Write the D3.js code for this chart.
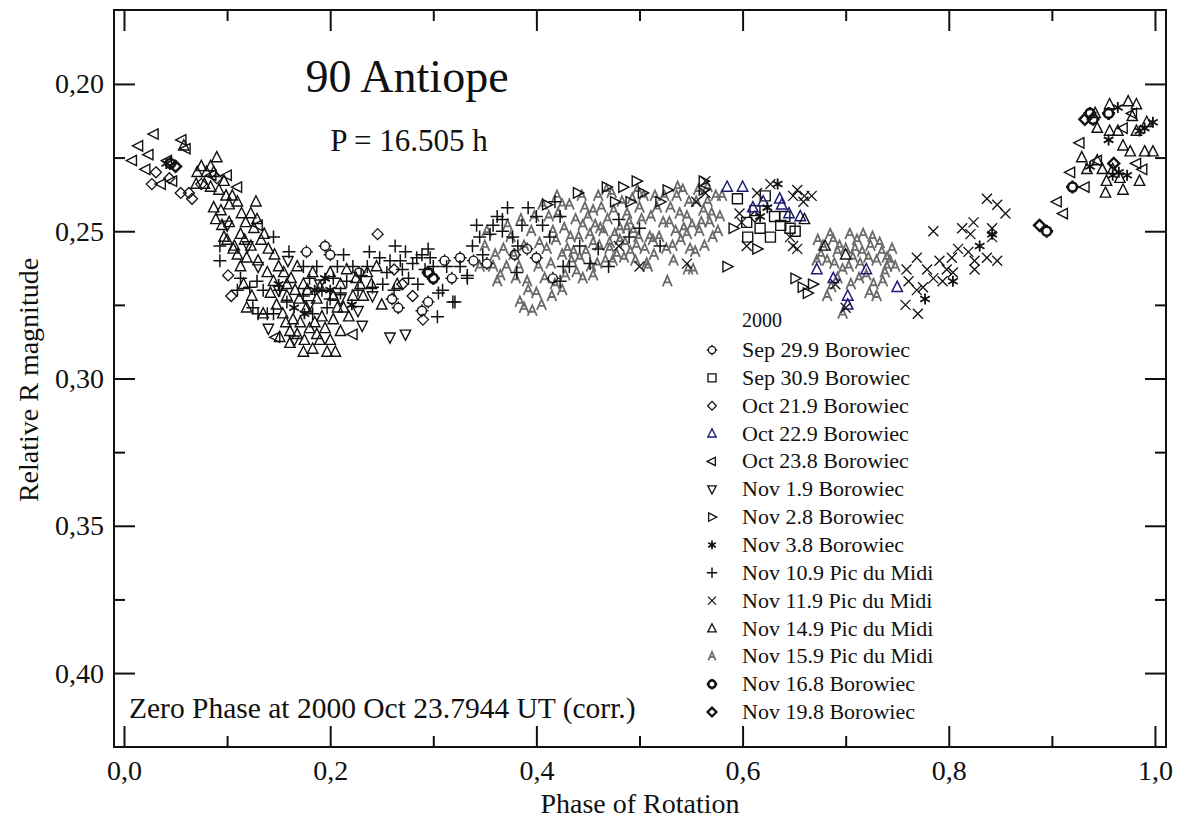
<!DOCTYPE html>
<html>
<head>
<meta charset="utf-8">
<script src="https://cdn.jsdelivr.net/npm/d3@7"></script>
<style>
body { margin: 0; background: #fff; }
text { font-family: "Liberation Serif", "DejaVu Serif", serif; fill: #111; }
</style>
</head>
<body>
<svg id="chart" width="1178" height="822"></svg>
<script>
// phase of rotation vs relative R magnitude
var sep299 = [[0.177,0.257],[0.195,0.255],[0.200,0.258],[0.311,0.260],[0.326,0.259],[0.339,0.260],[0.260,0.273],[0.266,0.276],[0.289,0.277],[0.295,0.274],[0.318,0.266],[0.379,0.258],[0.391,0.256],[0.400,0.259],[0.416,0.266],[0.228,0.264],[0.352,0.261]];
var sep309 = [[0.595,0.239],[0.604,0.247],[0.631,0.245],[0.641,0.245],[0.646,0.249],[0.627,0.252],[0.617,0.249],[0.605,0.252],[0.637,0.248],[0.651,0.250],[0.612,0.243],[0.622,0.238]];
var oct219 = [[0.031,0.230],[0.027,0.234],[0.055,0.237],[0.066,0.239],[0.063,0.237],[0.075,0.234],[0.090,0.232],[0.101,0.265],[0.104,0.272],[0.246,0.251],[0.300,0.266],[0.290,0.280],[0.280,0.272],[0.270,0.268],[0.262,0.263],[0.044,0.232],[0.612,0.245]];
var oct229 = [[0.585,0.235],[0.600,0.235],[0.620,0.240],[0.636,0.239],[0.656,0.245],[0.672,0.263],[0.688,0.266],[0.702,0.272],[0.702,0.275],[0.720,0.263],[0.750,0.269],[0.638,0.241],[0.645,0.244],[0.610,0.242]];
var oct238 = [[0.029,0.217],[0.056,0.219],[0.014,0.221],[0.024,0.224],[0.008,0.226],[0.042,0.226],[0.021,0.229],[0.047,0.233],[0.036,0.234],[0.100,0.231],[0.110,0.235],[0.085,0.231],[0.147,0.286],[0.222,0.285],[0.927,0.220],[0.918,0.230],[0.932,0.235],[0.905,0.240],[0.911,0.244],[0.944,0.226],[0.988,0.229],[0.982,0.227],[0.978,0.210],[0.969,0.215],[0.060,0.222],[0.130,0.248]];
var nov019 = [[0.159,0.260],[0.231,0.282],[0.258,0.286],[0.273,0.285],[0.241,0.272],[0.227,0.277],[0.210,0.273],[0.100,0.248],[0.130,0.262],[0.150,0.270],[0.180,0.275],[0.140,0.283],[0.165,0.287],[0.190,0.268],[0.120,0.255]];
var nov028 = [[0.468,0.235],[0.484,0.235],[0.497,0.233],[0.476,0.240],[0.491,0.240],[0.527,0.236],[0.562,0.236],[0.562,0.233],[0.585,0.262],[0.591,0.249],[0.614,0.256],[0.503,0.237],[0.651,0.266],[0.658,0.269],[0.663,0.271],[0.668,0.268],[0.440,0.237],[0.410,0.241],[0.520,0.240]];
var nov038 = [[0.964,0.208],[0.998,0.213],[0.985,0.216],[0.955,0.219],[0.973,0.231],[0.959,0.231],[0.937,0.228],[0.830,0.255],[0.842,0.251],[0.634,0.234],[0.624,0.242],[0.777,0.273],[0.804,0.267],[0.041,0.227],[0.200,0.270],[0.221,0.275],[0.990,0.215],[0.965,0.230],[0.617,0.245],[0.165,0.276],[0.185,0.270],[0.195,0.266],[0.175,0.278],[0.150,0.268]];
var nov109 = [[0.145,0.252],[0.263,0.255],[0.248,0.259],[0.258,0.260],[0.273,0.257],[0.280,0.261],[0.289,0.258],[0.292,0.263],[0.309,0.270],[0.319,0.274],[0.304,0.279],[0.338,0.255],[0.333,0.266],[0.251,0.268],[0.122,0.269],[0.130,0.278],[0.342,0.248],[0.362,0.245],[0.367,0.246],[0.345,0.252],[0.355,0.251],[0.367,0.250],[0.392,0.242],[0.400,0.245],[0.406,0.248],[0.377,0.252],[0.382,0.255],[0.423,0.245],[0.426,0.262],[0.423,0.267],[0.442,0.255],[0.452,0.261],[0.268,0.260],[0.284,0.259],[0.297,0.259],[0.300,0.262],[0.305,0.271],[0.321,0.274],[0.333,0.265],[0.381,0.264],[0.093,0.260],[0.093,0.255],[0.113,0.266],[0.125,0.276],[0.139,0.278],[0.174,0.262],[0.187,0.262],[0.203,0.266],[0.216,0.267],[0.222,0.262],[0.236,0.262],[0.241,0.269],[0.129,0.267],[0.151,0.270],[0.158,0.274],[0.174,0.272],[0.183,0.278],[0.197,0.276],[0.210,0.271],[0.145,0.278],[0.490,0.252],[0.500,0.249],[0.470,0.262],[0.160,0.257],[0.230,0.265],[0.180,0.266],[0.192,0.270],[0.200,0.273],[0.207,0.262],[0.213,0.258],[0.227,0.270],[0.238,0.257],[0.255,0.264],[0.262,0.270],[0.270,0.263],[0.276,0.266],[0.285,0.268],[0.295,0.256],[0.313,0.262],[0.326,0.262],[0.348,0.258],[0.358,0.248],[0.372,0.242],[0.386,0.248],[0.413,0.252],[0.418,0.240],[0.432,0.262],[0.460,0.256],[0.480,0.246],[0.520,0.255],[0.110,0.270],[0.135,0.270]];
var nov119 = [[0.564,0.233],[0.564,0.237],[0.614,0.237],[0.627,0.234],[0.649,0.238],[0.660,0.238],[0.667,0.238],[0.597,0.244],[0.599,0.247],[0.646,0.252],[0.649,0.255],[0.604,0.255],[0.546,0.261],[0.659,0.240],[0.653,0.236],[0.653,0.256],[0.785,0.250],[0.769,0.259],[0.759,0.263],[0.779,0.263],[0.791,0.260],[0.798,0.263],[0.761,0.267],[0.769,0.270],[0.775,0.269],[0.785,0.266],[0.794,0.267],[0.804,0.264],[0.803,0.259],[0.758,0.275],[0.770,0.278],[0.837,0.239],[0.847,0.241],[0.855,0.244],[0.813,0.249],[0.824,0.247],[0.821,0.251],[0.842,0.249],[0.809,0.256],[0.819,0.257],[0.825,0.260],[0.837,0.259],[0.847,0.260],[0.825,0.263],[0.842,0.252],[0.700,0.276],[0.690,0.268],[0.555,0.240],[0.500,0.262],[0.480,0.255]];
var nov149 = [[0.058,0.221],[0.084,0.228],[0.080,0.230],[0.087,0.230],[0.071,0.230],[0.070,0.234],[0.078,0.234],[0.084,0.235],[0.097,0.233],[0.099,0.238],[0.087,0.242],[0.094,0.243],[0.102,0.241],[0.089,0.246],[0.102,0.247],[0.114,0.244],[0.123,0.244],[0.126,0.249],[0.136,0.251],[0.133,0.253],[0.113,0.251],[0.097,0.252],[0.107,0.255],[0.123,0.255],[0.119,0.276],[0.135,0.278],[0.151,0.286],[0.161,0.284],[0.161,0.288],[0.174,0.291],[0.183,0.290],[0.197,0.291],[0.190,0.287],[0.200,0.287],[0.210,0.284],[0.203,0.280],[0.171,0.281],[0.177,0.276],[0.158,0.272],[0.187,0.273],[0.203,0.272],[0.210,0.268],[0.216,0.263],[0.139,0.264],[0.119,0.259],[0.106,0.256],[0.113,0.262],[0.100,0.253],[0.168,0.262],[0.145,0.267],[0.158,0.268],[0.174,0.268],[0.183,0.264],[0.190,0.269],[0.229,0.268],[0.222,0.272],[0.236,0.264],[0.200,0.264],[0.213,0.276],[0.154,0.278],[0.164,0.280],[0.124,0.272],[0.250,0.275],[0.245,0.262],[0.265,0.268],[0.092,0.236],[0.105,0.238],[0.110,0.240],[0.118,0.247],[0.129,0.246],[0.140,0.256],[0.146,0.258],[0.150,0.262],[0.155,0.264],[0.162,0.266],[0.166,0.270],[0.170,0.273],[0.178,0.270],[0.180,0.283],[0.185,0.281],[0.192,0.279],[0.195,0.283],[0.207,0.276],[0.218,0.279],[0.225,0.266],[0.232,0.272],[0.240,0.268],[0.148,0.275],[0.142,0.271],[0.130,0.260],[0.116,0.268],[0.168,0.285],[0.157,0.281],[0.187,0.285],[0.205,0.291],[0.175,0.287],[0.110,0.258],[0.117,0.253],[0.095,0.248],[0.128,0.240],[0.075,0.228],[0.090,0.225],[0.956,0.207],[0.974,0.206],[0.982,0.207],[0.942,0.210],[0.978,0.211],[0.944,0.215],[0.956,0.216],[0.964,0.216],[0.992,0.213],[0.982,0.216],[0.990,0.223],[0.998,0.223],[0.969,0.221],[0.976,0.223],[0.929,0.225],[0.934,0.229],[0.949,0.229],[0.953,0.233],[0.966,0.232],[0.952,0.237],[0.969,0.236],[0.985,0.233],[0.944,0.226],[0.959,0.229],[0.680,0.255],[0.700,0.258],[0.660,0.246]];
var nov159 = [[0.406,0.241],[0.420,0.238],[0.425,0.241],[0.447,0.242],[0.396,0.277],[0.384,0.274],[0.400,0.271],[0.362,0.267],[0.371,0.262],[0.358,0.262],[0.391,0.267],[0.439,0.264],[0.433,0.252],[0.452,0.251],[0.462,0.249],[0.471,0.254],[0.474,0.260],[0.459,0.261],[0.481,0.249],[0.494,0.250],[0.497,0.255],[0.507,0.261],[0.513,0.253],[0.523,0.247],[0.527,0.267],[0.532,0.255],[0.542,0.236],[0.546,0.245],[0.549,0.256],[0.552,0.263],[0.410,0.256],[0.416,0.250],[0.430,0.256],[0.442,0.259],[0.455,0.243],[0.488,0.244],[0.500,0.242],[0.465,0.250],[0.510,0.252],[0.539,0.244],[0.546,0.251],[0.547,0.263],[0.562,0.243],[0.568,0.247],[0.571,0.252],[0.508,0.262],[0.488,0.249],[0.481,0.253],[0.471,0.256],[0.491,0.257],[0.436,0.257],[0.455,0.254],[0.350,0.255],[0.345,0.262],[0.375,0.252],[0.385,0.246],[0.395,0.250],[0.402,0.262],[0.418,0.268],[0.425,0.258],[0.445,0.248],[0.460,0.238],[0.475,0.243],[0.515,0.238],[0.530,0.242],[0.535,0.250],[0.555,0.240],[0.558,0.250],[0.578,0.245],[0.580,0.238],[0.502,0.246],[0.485,0.259],[0.445,0.266],[0.415,0.272],[0.380,0.266],[0.368,0.256],[0.352,0.250],[0.360,0.258],[0.365,0.265],[0.372,0.248],[0.378,0.258],[0.383,0.262],[0.388,0.255],[0.392,0.270],[0.398,0.245],[0.403,0.254],[0.408,0.266],[0.412,0.245],[0.414,0.261],[0.419,0.253],[0.421,0.244],[0.427,0.249],[0.428,0.265],[0.432,0.241],[0.434,0.260],[0.438,0.246],[0.441,0.252],[0.444,0.238],[0.448,0.257],[0.450,0.245],[0.453,0.262],[0.457,0.248],[0.461,0.255],[0.463,0.242],[0.467,0.260],[0.469,0.246],[0.473,0.237],[0.476,0.251],[0.478,0.258],[0.483,0.240],[0.486,0.254],[0.490,0.247],[0.493,0.239],[0.496,0.260],[0.499,0.252],[0.504,0.238],[0.505,0.256],[0.511,0.245],[0.514,0.258],[0.517,0.242],[0.519,0.252],[0.524,0.238],[0.526,0.256],[0.529,0.247],[0.533,0.260],[0.536,0.238],[0.540,0.253],[0.543,0.249],[0.548,0.240],[0.551,0.248],[0.554,0.257],[0.557,0.236],[0.560,0.247],[0.563,0.255],[0.566,0.240],[0.570,0.244],[0.574,0.238],[0.576,0.250],[0.566,0.235],[0.537,0.235],[0.498,0.236],[0.468,0.236],[0.455,0.265],[0.425,0.270],[0.405,0.275],[0.388,0.276],[0.673,0.253],[0.685,0.251],[0.682,0.260],[0.694,0.255],[0.704,0.251],[0.711,0.253],[0.717,0.251],[0.724,0.255],[0.707,0.259],[0.733,0.254],[0.740,0.259],[0.730,0.260],[0.697,0.263],[0.692,0.266],[0.727,0.268],[0.682,0.272],[0.697,0.278],[0.730,0.272],[0.736,0.267],[0.740,0.262],[0.692,0.257],[0.714,0.261],[0.676,0.258],[0.720,0.265],[0.745,0.256],[0.678,0.255],[0.688,0.253],[0.700,0.256],[0.703,0.262],[0.709,0.256],[0.716,0.257],[0.722,0.259],[0.726,0.252],[0.735,0.257],[0.738,0.264],[0.743,0.260],[0.689,0.261],[0.713,0.266],[0.705,0.268],[0.686,0.269],[0.723,0.271],[0.672,0.260],[0.748,0.262]];
var nov168 = [[0.937,0.210],[0.955,0.210],[0.920,0.235],[0.895,0.250],[0.940,0.212],[0.045,0.227],[0.295,0.264],[0.300,0.266]];
var nov198 = [[0.888,0.248],[0.932,0.212],[0.050,0.228],[0.960,0.227]];

var legendNames = ["Sep 29.9 Borowiec","Sep 30.9 Borowiec","Oct 21.9 Borowiec","Oct 22.9 Borowiec","Oct 23.8 Borowiec","Nov 1.9 Borowiec","Nov 2.8 Borowiec","Nov 3.8 Borowiec","Nov 10.9 Pic du Midi","Nov 11.9 Pic du Midi","Nov 14.9 Pic du Midi","Nov 15.9 Pic du Midi","Nov 16.8 Borowiec","Nov 19.8 Borowiec"];
var xMajor = [0, 0.2, 0.4, 0.6, 0.8, 1.0];
var xMinor = [0.1, 0.3, 0.5, 0.7, 0.9];
var yMajor = [0.20, 0.25, 0.30, 0.35, 0.40];
var yMinor = [0.225, 0.275, 0.325, 0.375];

// marker outlines, centred on 0,0
var shapes = {
	circle: "M4.5,0A4.5,4.5 0 1,1 -4.5,0A4.5,4.5 0 1,1 4.5,0M0,-4.5V-6.5M0,4.5V6.5M-4.5,0H-6.5M4.5,0H6.5",
	square: "M-5,-5H5V5H-5Z",
	diamond: "M0,-5.5L5.5,0L0,5.5L-5.5,0Z",
	triUp: "M0,-6L5.2,4.2H-5.2Z",
	triLeft: "M-6,0L4.2,-5.2V5.2Z",
	triDown: "M0,6L5.2,-4.2H-5.2Z",
	triRight: "M6,0L-4.2,-5.2V5.2Z",
	star: "M0,-5.5V5.5M-4.8,-2.75L4.8,2.75M-4.8,2.75L4.8,-2.75",
	plus: "M-6.5,0H6.5M0,-6.5V6.5",
	cross: "M-5,-5L5,5M-5,5L5,-5",
	letterA: "M-4.6,5L0,-5.5L4.6,5M-2.7,1H2.7"
};

var series = [
	{data: sep299, shape: "circle", color: "#111", w: 1.4},
	{data: sep309, shape: "square", color: "#111", w: 1.4},
	{data: oct219, shape: "diamond", color: "#111", w: 1.3},
	{data: oct229, shape: "triUp", color: "#1c1c78", w: 1.5},
	{data: oct238, shape: "triLeft", color: "#111", w: 1.4},
	{data: nov019, shape: "triDown", color: "#111", w: 1.4},
	{data: nov028, shape: "triRight", color: "#111", w: 1.4},
	{data: nov038, shape: "star", color: "#111", w: 1.8},
	{data: nov109, shape: "plus", color: "#111", w: 1.5},
	{data: nov119, shape: "cross", color: "#111", w: 1.3},
	{data: nov149, shape: "triUp", color: "#111", w: 1.4},
	{data: nov159, shape: "letterA", color: "#6a6a6a", w: 1.8},
	{data: nov168, shape: "circle", color: "#111", w: 2.6},
	{data: nov198, shape: "diamond", color: "#111", w: 2.4}
];
series.forEach(function(s, i){ s.name = legendNames[i]; });

var svg = d3.select("#chart");
var plotL = 114, plotR = 1166, plotT = 10, plotB = 747;

var x = d3.scaleLinear().domain([-0.0097, 1.0107]).range([plotL, plotR]);
var y = d3.scaleLinear().domain([0.1749, 0.4251]).range([plotT, plotB]);

var comma = d3.formatLocale({decimal: ",", thousands: ".", grouping: [3], currency: ["", ""]});
var fx = comma.format(".1f"), fy = comma.format(".2f");

// points: the gray Nov 15.9 cloud sits underneath the rest
var drawOrder = [11, 0, 1, 2, 3, 4, 5, 6, 7, 8, 9, 10, 12, 13];
var plot = svg.append("g");
drawOrder.forEach(function(i){
	var s = series[i];
	plot.append("g").selectAll("path")
		.data(s.data)
		.enter().append("path")
		.attr("transform", function(d){ return "translate(" + x(d[0]) + "," + y(d[1]) + ")"; })
		.attr("d", shapes[s.shape])
		.attr("fill", "none")
		.attr("stroke", s.color)
		.attr("stroke-width", s.w);
});

// axes, ticks pointing inward on every side
function ticks(axis, vals, len, labels, fmt){
	var a = axis.tickValues(vals).tickSizeInner(-len).tickSizeOuter(0);
	if (labels) a.tickFormat(fmt); else a.tickFormat("");
	return a;
}
function addAxis(tr, axis){
	var g = svg.append("g").attr("transform", tr).call(axis);
	g.select(".domain").remove();
	g.selectAll(".tick line").attr("stroke", "#111").attr("stroke-width", 2);
	g.selectAll("text").attr("font-size", 28).attr("font-family", "Liberation Serif, serif").attr("fill", "#222");
	return g;
}
addAxis("translate(0," + plotB + ")", ticks(d3.axisBottom(x), xMajor, 21, true, fx).tickPadding(13));
addAxis("translate(0," + plotB + ")", ticks(d3.axisBottom(x), xMinor, 11, false));
addAxis("translate(0," + plotT + ")", ticks(d3.axisTop(x), xMajor, 21, false));
addAxis("translate(0," + plotT + ")", ticks(d3.axisTop(x), xMinor, 11, false));
addAxis("translate(" + plotL + ",0)", ticks(d3.axisLeft(y), yMajor, 21, true, fy).tickPadding(10));
addAxis("translate(" + plotL + ",0)", ticks(d3.axisLeft(y), yMinor, 11, false));
addAxis("translate(" + plotR + ",0)", ticks(d3.axisRight(y), yMajor, 21, false));
addAxis("translate(" + plotR + ",0)", ticks(d3.axisRight(y), yMinor, 11, false));

svg.append("rect").attr("x", plotL).attr("y", plotT)
	.attr("width", plotR - plotL).attr("height", plotB - plotT)
	.attr("fill", "none").attr("stroke", "#111").attr("stroke-width", 2);

// titles and notes
svg.append("text").attr("x", 407).attr("y", 92).attr("text-anchor", "middle")
	.attr("font-size", 46).text("90 Antiope");
svg.append("text").attr("x", 409).attr("y", 151).attr("text-anchor", "middle")
	.attr("font-size", 31).text("P = 16.505 h");
svg.append("text").attr("x", 129).attr("y", 718)
	.attr("font-size", 29.5).text("Zero Phase at 2000 Oct 23.7944 UT (corr.)");
svg.append("text").attr("x", 640).attr("y", 813).attr("text-anchor", "middle")
	.attr("font-size", 28).text("Phase of Rotation");
svg.append("text").attr("transform", "translate(38,380) rotate(-90)").attr("text-anchor", "middle")
	.attr("font-size", 28).text("Relative R magnitude");

// legend
var legend = svg.append("g");
legend.append("text").attr("x", 742).attr("y", 327).attr("font-size", 20).attr("fill", "#444").text("2000");
var rows = legend.selectAll("g.row").data(series).enter().append("g")
	.attr("class", "row")
	.attr("transform", function(d, i){ return "translate(0," + (350 + i * 27.85) + ")"; });
rows.append("path")
	.attr("transform", "translate(712,0) scale(0.8)")
	.attr("d", function(d){ return shapes[d.shape]; })
	.attr("fill", "none")
	.attr("stroke", function(d){ return d.color; })
	.attr("stroke-width", function(d){ return d.w * 1.2; });
rows.append("text").attr("x", 742).attr("y", 7)
	.attr("font-size", 22).text(function(d){ return d.name; });
</script>
</body>
</html>
